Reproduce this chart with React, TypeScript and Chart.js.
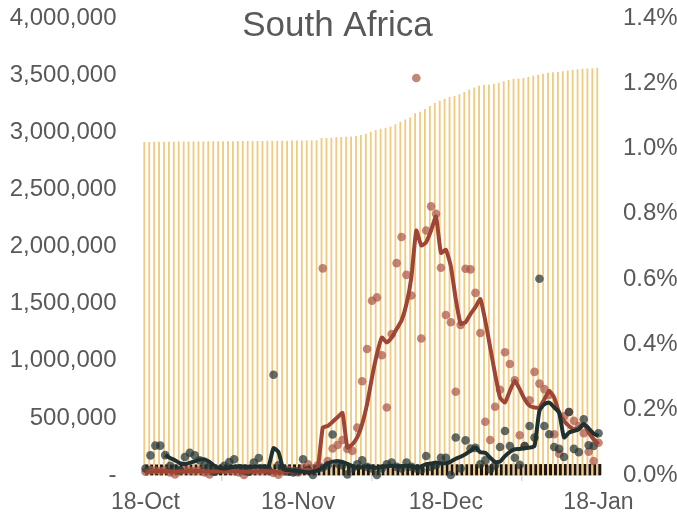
import React, { useEffect, useRef } from "react";
import { Chart, registerables } from "chart.js";

Chart.register(...registerables);

const TITLE = "South Africa";

const DATES = [
  "18-Oct","19-Oct","20-Oct","21-Oct","22-Oct","23-Oct","24-Oct","25-Oct","26-Oct","27-Oct","28-Oct","29-Oct","30-Oct","31-Oct",
  "1-Nov","2-Nov","3-Nov","4-Nov","5-Nov","6-Nov","7-Nov","8-Nov","9-Nov","10-Nov","11-Nov","12-Nov","13-Nov","14-Nov","15-Nov",
  "16-Nov","17-Nov","18-Nov","19-Nov","20-Nov","21-Nov","22-Nov","23-Nov","24-Nov","25-Nov","26-Nov","27-Nov","28-Nov","29-Nov","30-Nov",
  "1-Dec","2-Dec","3-Dec","4-Dec","5-Dec","6-Dec","7-Dec","8-Dec","9-Dec","10-Dec","11-Dec","12-Dec","13-Dec","14-Dec","15-Dec",
  "16-Dec","17-Dec","18-Dec","19-Dec","20-Dec","21-Dec","22-Dec","23-Dec","24-Dec","25-Dec","26-Dec","27-Dec","28-Dec","29-Dec","30-Dec","31-Dec",
  "1-Jan","2-Jan","3-Jan","4-Jan","5-Jan","6-Jan","7-Jan","8-Jan","9-Jan","10-Jan","11-Jan","12-Jan","13-Jan","14-Jan","15-Jan","16-Jan","17-Jan","18-Jan",
];

const SHOWN_TICKS = ["18-Oct", "18-Nov", "18-Dec", "18-Jan"];

// cumulative cases (thousands) - left axis
const CUM_CASES_K = [
  2915.0,2915.5,2916.0,2916.5,2917.0,2917.3,2917.6,2918.0,2918.4,2918.8,
  2919.2,2919.6,2920.0,2920.3,2920.6,2921.0,2921.4,2921.8,2922.2,2922.6,
  2923.0,2923.3,2923.6,2924.0,2924.4,2924.8,2925.2,2925.6,2926.0,2926.4,
  2926.8,2927.2,2927.8,2928.7,2929.5,2930.3,2948.8,2950.1,2952.5,2955.2,
  2958.4,2961.0,2963.3,2967.6,2976.0,2987.5,3003.5,3020.0,3031.0,3037.3,
  3050.4,3070.2,3092.6,3111.5,3128.6,3166.6,3180.0,3203.6,3230.0,3255.8,
  3276.5,3292.5,3308.0,3316.4,3331.7,3352.7,3373.8,3392.6,3407.4,3413.0,
  3416.6,3423.7,3432.6,3445.5,3457.2,3467.2,3471.4,3474.5,3482.5,3493.5,
  3503.3,3512.5,3521.0,3525.4,3527.7,3533.7,3540.5,3546.4,3551.4,3556.0,
  3558.5,3560.0,3563.5,
];

// cumulative deaths (thousands) - left axis
const CUM_DEATHS_K = [
  88.75,88.80,88.88,88.96,89.01,89.04,89.07,89.10,89.15,89.21,
  89.26,89.30,89.33,89.36,89.39,89.41,89.43,89.47,89.51,89.54,
  89.56,89.58,89.61,89.66,89.68,89.70,89.97,90.00,90.02,90.03,
  90.04,90.05,90.09,90.10,90.10,90.12,90.14,90.16,90.27,90.30,
  90.33,90.33,90.35,90.38,90.42,90.44,90.46,90.46,90.48,90.51,
  90.54,90.56,90.58,90.61,90.64,90.66,90.68,90.73,90.75,90.78,
  90.83,90.88,90.88,90.98,91.00,91.10,91.17,91.25,91.28,91.32,
  91.34,91.37,91.45,91.57,91.65,91.70,91.73,91.81,91.95,92.05,
  92.60,92.74,92.85,92.93,93.00,93.05,93.23,93.30,93.37,93.53,
  93.61,93.69,93.80,
];

// daily new cases as % of cumulative cases - right axis
const NEW_CASES_PCT = [
  0.010,0.015,0.014,0.012,0.016,0.008,0.002,0.012,0.016,0.014,
  0.012,0.015,0.008,0.002,0.010,0.016,0.015,0.013,0.012,0.008,
  0.000,0.010,0.014,0.013,0.014,0.012,0.006,0.001,0.012,0.016,
  0.012,0.008,0.020,0.033,0.018,0.030,0.633,0.043,0.081,0.092,
  0.107,0.080,0.074,0.145,0.287,0.386,0.534,0.544,0.367,0.207,
  0.432,0.649,0.729,0.613,0.550,1.216,0.418,0.749,0.823,0.800,
  0.635,0.490,0.468,0.255,0.460,0.632,0.630,0.558,0.435,0.163,
  0.107,0.209,0.261,0.376,0.340,0.290,0.122,0.089,0.229,0.316,
  0.280,0.263,0.245,0.125,0.065,0.180,0.193,0.166,0.150,0.128,
  0.071,0.043,0.099,
];

// 7-day average of the above - right axis
const NEW_CASES_PCT_AVG = [
  0.011,0.011,0.012,0.012,0.012,0.011,0.011,0.011,0.011,0.012,
  0.012,0.012,0.011,0.011,0.011,0.011,0.012,0.012,0.012,0.011,
  0.010,0.010,0.011,0.011,0.012,0.011,0.010,0.010,0.010,0.011,
  0.011,0.012,0.014,0.016,0.012,0.022,0.145,0.150,0.163,0.177,
  0.190,0.084,0.094,0.115,0.156,0.217,0.299,0.371,0.421,0.406,
  0.421,0.447,0.473,0.524,0.606,0.749,0.703,0.713,0.749,0.792,
  0.680,0.690,0.640,0.540,0.463,0.468,0.493,0.514,0.539,0.473,
  0.391,0.309,0.237,0.222,0.258,0.289,0.263,0.232,0.212,0.207,
  0.207,0.232,0.258,0.237,0.191,0.166,0.150,0.140,0.145,0.156,
  0.130,0.110,0.094,
];

// daily new deaths as % of cumulative deaths - right axis
const NEW_DEATHS_PCT = [
  0.020,0.060,0.090,0.090,0.061,0.028,0.020,0.015,0.055,0.068,
  0.060,0.045,0.030,0.025,0.010,0.015,0.028,0.040,0.048,0.020,
  0.015,0.010,0.038,0.052,0.020,0.015,0.307,0.030,0.020,0.010,
  0.008,0.012,0.048,0.015,0.000,0.020,0.022,0.030,0.124,0.035,
  0.030,0.002,0.020,0.033,0.045,0.025,0.020,0.000,0.020,0.033,
  0.038,0.025,0.020,0.038,0.025,0.020,0.015,0.058,0.025,0.030,
  0.053,0.053,0.000,0.115,0.020,0.106,0.081,0.083,0.033,0.045,
  0.017,0.030,0.086,0.135,0.089,0.053,0.031,0.089,0.150,0.115,
  0.601,0.150,0.125,0.086,0.080,0.055,0.193,0.080,0.070,0.171,
  0.091,0.089,0.128,
];

// 7-day average of the above - right axis
const NEW_DEATHS_PCT_AVG = [
  null,null,null,null,0.061,0.052,0.045,0.036,0.034,0.037,
  0.042,0.047,0.048,0.040,0.028,0.022,0.020,0.022,0.025,0.027,
  0.026,0.025,0.025,0.026,0.026,0.027,0.082,0.070,0.018,0.015,
  0.013,0.012,0.010,0.008,0.010,0.015,0.022,0.035,0.041,0.042,
  0.040,0.034,0.027,0.022,0.024,0.027,0.024,0.022,0.025,0.027,
  0.028,0.027,0.027,0.028,0.026,0.022,0.027,0.033,0.035,0.038,
  0.036,0.036,0.041,0.050,0.056,0.064,0.074,0.084,0.070,0.068,
  0.053,0.040,0.041,0.058,0.071,0.079,0.080,0.082,0.084,0.089,
  0.196,0.217,0.222,0.207,0.191,0.115,0.130,0.135,0.140,0.156,
  0.143,0.127,0.120,
];

const LEFT_MAX = 4000000;
const LEFT_STEP = 500000;
const RIGHT_MAX = 1.4;
const RIGHT_STEP = 0.2;

const FONT = '"Liberation Sans", Arial, sans-serif';
const TEXT_COLOR = "#595959";

const titlePlugin = {
  id: "centerTitle",
  afterDraw(chart: any) {
    const ctx = chart.ctx;
    ctx.save();
    ctx.font = `35px ${FONT}`;
    ctx.fillStyle = TEXT_COLOR;
    ctx.textAlign = "center";
    ctx.textBaseline = "alphabetic";
    ctx.fillText(TITLE, 337.5, 36);
    ctx.restore();
  },
};

export default function App() {
  const ref = useRef<HTMLCanvasElement | null>(null);

  useEffect(() => {
    if (!ref.current) return;
    const chart = new Chart(ref.current, {
      type: "bar",
      data: {
        labels: DATES,
        datasets: [
          {
            type: "line",
            label: "Deaths 7d avg",
            data: NEW_DEATHS_PCT_AVG,
            yAxisID: "y1",
            borderColor: "#1F3030",
            borderWidth: 4,
            pointRadius: 0,
            tension: 0.2,
            fill: false,
            clip: false,
            order: 0,
          } as any,
          {
            type: "line",
            label: "Cases 7d avg",
            data: NEW_CASES_PCT_AVG,
            yAxisID: "y1",
            borderColor: "#9E4536",
            borderWidth: 4,
            pointRadius: 0,
            tension: 0.15,
            fill: false,
            clip: false,
            order: 1,
          } as any,
          {
            type: "line",
            label: "Deaths %",
            data: NEW_DEATHS_PCT,
            yAxisID: "y1",
            showLine: false,
            pointRadius: 4.3,
            pointBorderWidth: 0,
            pointBackgroundColor: "rgba(38,52,52,0.72)",
            borderColor: "rgba(38,52,52,0.72)",
            clip: false,
            order: 2,
          } as any,
          {
            type: "line",
            label: "Cases %",
            data: NEW_CASES_PCT,
            yAxisID: "y1",
            showLine: false,
            pointRadius: 4.3,
            pointBorderWidth: 0,
            pointBackgroundColor: "rgba(172,88,72,0.72)",
            borderColor: "rgba(172,88,72,0.72)",
            clip: false,
            order: 3,
          } as any,
          {
            type: "bar",
            label: "Cumulative cases",
            data: CUM_CASES_K.map((v) => v * 1000),
            yAxisID: "y",
            backgroundColor: "#F1CB82",
            categoryPercentage: 1,
            barPercentage: 0.75,
            clip: false,
            order: 5,
          } as any,
          {
            type: "bar",
            label: "Cumulative deaths",
            data: CUM_DEATHS_K.map((v) => v * 1000),
            yAxisID: "y",
            backgroundColor: "#1B1414",
            categoryPercentage: 1,
            barPercentage: 1,
            clip: false,
            order: 6,
          } as any,
        ],
      },
      options: {
        responsive: false,
        animation: false,
        layout: { padding: { top: 18, left: 0, right: 0, bottom: 0 } },
        plugins: {
          legend: { display: false },
          title: { display: false },
          tooltip: { enabled: false },
        },
        scales: {
          x: {
            type: "category",
            offset: false,
            grid: {
              display: true,
              drawOnChartArea: false,
              drawTicks: true,
              tickLength: 6,
              color: "#D9D9D9",
              lineWidth: 1.5,
            },
            border: { display: true, color: "#D9D9D9", width: 1.5 },
            ticks: {
              autoSkip: false,
              maxRotation: 0,
              minRotation: 0,
              padding: 8,
              color: TEXT_COLOR,
              font: { family: FONT, size: 23 },
              callback: function (this: any, _v: any, i: number) {
                const lab = DATES[i];
                return SHOWN_TICKS.includes(lab) ? lab : null;
              },
            },
            afterFit: (scale: any) => {
              scale.height = 45;
              scale.paddingLeft = 0;
              scale.paddingRight = 0;
            },
          } as any,
          y: {
            type: "linear",
            position: "left",
            min: 0,
            max: LEFT_MAX,
            grid: { display: false, drawTicks: false },
            border: { display: false },
            ticks: {
              stepSize: LEFT_STEP,
              padding: 29,
              color: TEXT_COLOR,
              font: { family: FONT, size: 24 },
              callback: (v: any) => (Number(v) === 0 ? "-" : Number(v).toLocaleString("en-US")),
            },
            afterFit: (scale: any) => {
              scale.width = 145.5;
              scale.paddingTop = 0;
              scale.paddingBottom = 0;
            },
          } as any,
          y1: {
            type: "linear",
            position: "right",
            min: 0,
            max: RIGHT_MAX,
            grid: { display: false, drawTicks: false },
            border: { display: false },
            ticks: {
              stepSize: RIGHT_STEP,
              padding: 24.5,
              color: TEXT_COLOR,
              font: { family: FONT, size: 24 },
              callback: (v: any) => Number(v).toFixed(1) + "%",
            },
            afterFit: (scale: any) => {
              scale.width = 78.5;
              scale.paddingTop = 0;
              scale.paddingBottom = 0;
            },
          } as any,
        },
      },
      plugins: [titlePlugin],
    });
    return () => chart.destroy();
  }, []);

  return (
    <div style={{ position: "fixed", left: 0, top: 0, width: 677, height: 520, background: "#fff" }}>
      <canvas ref={ref} width={677} height={520} style={{ display: "block", width: 677, height: 520 }} />
    </div>
  );
}
